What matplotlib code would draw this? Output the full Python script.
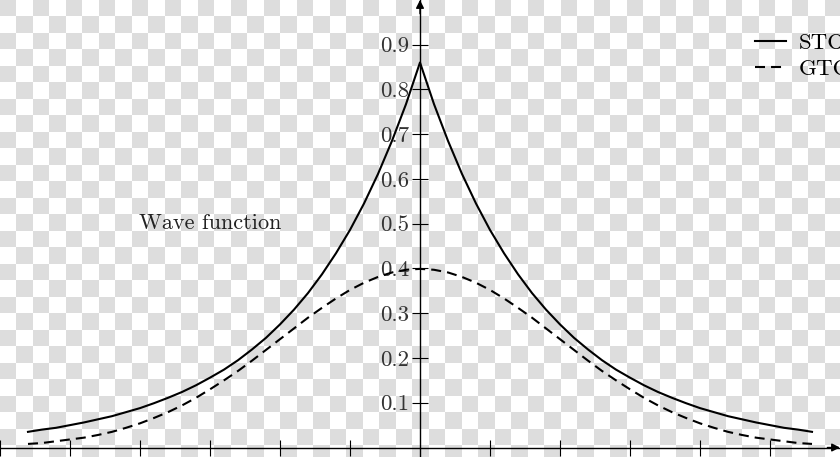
import numpy as np
import matplotlib
matplotlib.use("Agg")
import matplotlib.pyplot as plt

# ---- data ----
x_vals = [-2.8, -2.7, -2.6, -2.5, -2.4, -2.3, -2.2, -2.1, -2.0, -1.9, -1.8, -1.7, -1.6, -1.5,
          -1.4, -1.3, -1.2, -1.1, -1.0, -0.9, -0.8, -0.7, -0.6, -0.5, -0.4, -0.3, -0.2, -0.1,
          0.0, 0.1, 0.2, 0.3, 0.4, 0.5, 0.6, 0.7, 0.8, 0.9, 1.0, 1.1, 1.2, 1.3, 1.4,
          1.5, 1.6, 1.7, 1.8, 1.9, 2.0, 2.1, 2.2, 2.3, 2.4, 2.5, 2.6, 2.7, 2.8]
sto_vals = [0.035, 0.040, 0.044, 0.050, 0.056, 0.063, 0.070, 0.079, 0.088, 0.099, 0.111, 0.124,
            0.139, 0.156, 0.174, 0.195, 0.219, 0.245, 0.275, 0.308, 0.345, 0.387, 0.434, 0.486,
            0.545, 0.611, 0.685, 0.767, 0.860, 0.767, 0.685, 0.611, 0.545, 0.486, 0.434, 0.387,
            0.345, 0.308, 0.275, 0.245, 0.219, 0.195, 0.174, 0.156, 0.139, 0.124, 0.111, 0.099,
            0.088, 0.079, 0.070, 0.063, 0.056, 0.050, 0.044, 0.040, 0.035]
gto_vals = [0.008, 0.010, 0.014, 0.018, 0.022, 0.028, 0.035, 0.044, 0.054, 0.066, 0.079, 0.094,
            0.111, 0.130, 0.150, 0.171, 0.194, 0.218, 0.242, 0.266, 0.290, 0.312, 0.333, 0.352,
            0.368, 0.381, 0.391, 0.397, 0.399, 0.397, 0.391, 0.381, 0.368, 0.352, 0.333, 0.312,
            0.290, 0.266, 0.242, 0.218, 0.194, 0.171, 0.150, 0.130, 0.111, 0.094, 0.079, 0.066,
            0.054, 0.044, 0.035, 0.028, 0.022, 0.018, 0.014, 0.010, 0.008]
series_labels = ["STO", "GTO"]
y_ticks = [0.1, 0.2, 0.3, 0.4, 0.5, 0.6, 0.7, 0.8, 0.9]
y_ticklabels = ["0.1", "0.2", "0.3", "0.4", "0.5", "0.6", "0.7", "0.8", "0.9"]
x_ticks = [-3.0, -2.5, -2.0, -1.5, -1.0, -0.5, 0.5, 1.0, 1.5, 2.0, 2.5]
annotation_text = "Wave function"

plt.rcParams['font.family'] = ['cmr10', 'DejaVu Serif']
plt.rcParams['axes.formatter.use_mathtext'] = True

W, H = 840, 457
fig = plt.figure(figsize=(W / 100, H / 100), dpi=100)

# transparent-style checkerboard background
bg = fig.add_axes([0, 0, 1, 1])
cell = 16.5
ncol, nrow = int(np.ceil(W / cell)) + 1, int(np.ceil(H / cell)) + 1
checker = (np.add.outer(np.arange(nrow), np.arange(ncol)) % 2).astype(float)
bg.imshow(checker, cmap=matplotlib.colors.ListedColormap(['#dddddd', '#ffffff']),
          extent=(0, ncol * cell, nrow * cell, 0), interpolation='nearest', aspect='auto')
bg.set_xlim(0, W)
bg.set_ylim(H, 0)
bg.axis('off')

ax = fig.add_axes([0, 0, 1, 1])
ax.patch.set_alpha(0)
ax.set_xlim(-3.0, 3.0)
ax.set_ylim(-0.0212, 0.9996)

ax.plot(x_vals, sto_vals, color='black', lw=1.5, label=series_labels[0])
ax.plot(x_vals, gto_vals, color='black', lw=1.5, linestyle=(0, (4.8, 2.9)), label=series_labels[1])

for s in ['top', 'right']:
    ax.spines[s].set_visible(False)
ax.spines['left'].set_position(('data', 0))
ax.spines['bottom'].set_position(('data', 0))
ax.spines['left'].set_linewidth(1.0)
ax.spines['bottom'].set_linewidth(1.0)

ax.set_yticks(y_ticks)
ax.set_yticklabels(y_ticklabels)
ax.set_xticks(x_ticks)
ax.set_xticklabels([])
ax.tick_params(axis='both', direction='inout', length=11.5, width=0.8, colors='black')
ax.tick_params(axis='y', labelsize=16.5, pad=2, labelcolor='#333333')

# arrow heads
ax.annotate('', xy=(1.0, 0), xycoords=ax.get_yaxis_transform(),
            xytext=(0.985, 0), textcoords=ax.get_yaxis_transform(),
            arrowprops=dict(arrowstyle='-|>', color='black', lw=1.0, mutation_scale=12,
                            shrinkA=0, shrinkB=0))
ax.annotate('', xy=(0, 1.0), xycoords=ax.get_xaxis_transform(),
            xytext=(0, 0.97), textcoords=ax.get_xaxis_transform(),
            arrowprops=dict(arrowstyle='-|>', color='black', lw=1.0, mutation_scale=12,
                            shrinkA=0, shrinkB=0))

ax.text(-1.5, 0.5, annotation_text, fontsize=16, ha='center', va='center', color='#222222')

ax.legend(loc='upper left', bbox_to_anchor=(755 / W, 1 - 33 / H), bbox_transform=fig.transFigure,
          frameon=False, fontsize=16.5, borderpad=0, borderaxespad=0, handlelength=1.35,
          handletextpad=0.55, labelspacing=0.25)

fig.savefig('out.png', dpi=100)
